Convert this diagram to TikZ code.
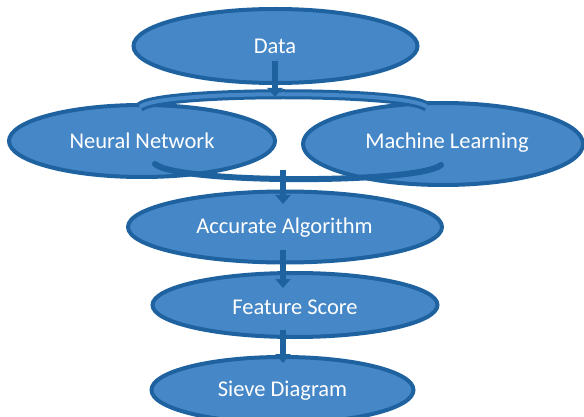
\documentclass[tikz,border=0pt]{standalone}
\usepackage{fontspec}
\setmainfont{Carlito}
\usetikzlibrary{arrows.meta,shapes.geometric}
\definecolor{blobfill}{HTML}{4587C7}
\definecolor{blobline}{HTML}{1F62A0}
\tikzset{
  blob/.style={ellipse, draw=blobline, line width=4pt, fill=blobfill,
    text=white, inner sep=0pt},
  lbl/.style={text=white, font=\fontsize{22.5}{26}\selectfont},
  flow/.style={draw=blobline, line width=6pt,
    -{Triangle[width=15pt,length=9pt]}},
  band/.style={draw=blobline, line width=3pt, double=blobfill,
    double distance=4pt},
  joinline/.style={draw=blobline, line width=6pt, line cap=round},
}
\begin{document}
\begin{tikzpicture}[x=1pt,y=-1pt]
\useasboundingbox (0,0) rectangle (584,417);
\fill[white] (0,0) rectangle (584,417);

% process stages
\node[blob, minimum width=284pt, minimum height=74pt] (data) at (275.5,46) {};
\node[blob, minimum width=266pt, minimum height=72pt] (nn) at (142,141) {};
\node[blob, minimum width=280pt, minimum height=82pt] (ml) at (443,144) {};
\node[blob, minimum width=314pt, minimum height=71pt] (aa) at (285,227) {};
\node[blob, minimum width=285pt, minimum height=64pt] (fs) at (295,305) {};
\node[blob, minimum width=262pt, minimum height=66pt] (sd) at (282.5,390) {};

% labels
\node[lbl] (tdata) at (275,46.5) {Data};
\node[lbl] (tnn) at (142,141) {Neural Network};
\node[lbl] (tml) at (447,143) {Machine Learning};
\node[lbl] (taa) at (284.5,228) {Accurate Algorithm};
\node[lbl] (tfs) at (295,307) {Feature Score};
\node[lbl] (tsd) at (282.5,391) {Sieve Diagram};

% split and merge points
\coordinate (dataout) at (275,61);
\coordinate (split) at (275,97);
\coordinate (nntop) at (140,107);
\coordinate (mltop) at (427,107);
\coordinate (nnbot) at (155,164);
\coordinate (mlbot) at (441,165);
\coordinate (merge) at (283,170);
\coordinate (aain) at (283,204);
\coordinate (aaout) at (283,250);
\coordinate (fsin) at (283,288);
\coordinate (fsout) at (283,330);
\coordinate (sdin) at (283,363);

% branch from Data to both models
\path[band] (nntop) .. controls (158,90) and (409,90) .. (mltop);
\draw[flow] (dataout) -- (split);

% both models merge into one algorithm
\path[joinline] (nnbot) .. controls (178,184) and (418,184) .. (mlbot);
\draw[flow] (merge) -- (aain);
\draw[flow] (aaout) -- (fsin);
\draw[flow] (fsout) -- (sdin);
\end{tikzpicture}
\end{document}
